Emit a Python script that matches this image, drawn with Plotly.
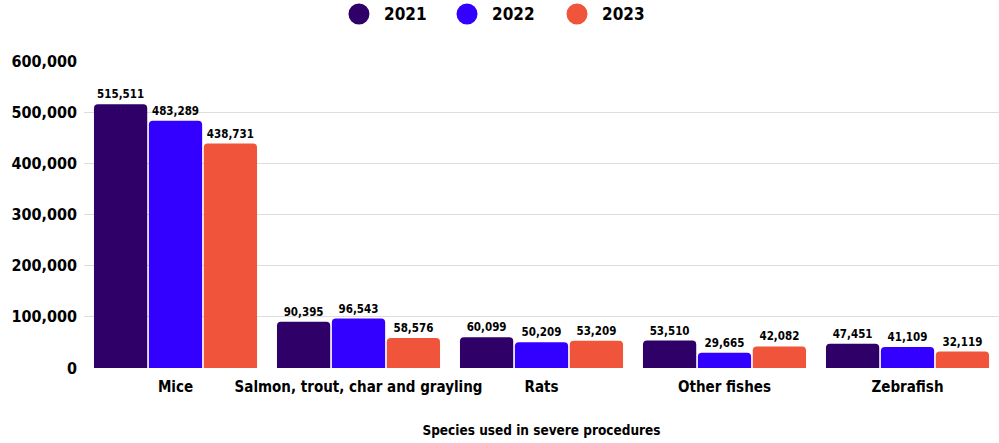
import plotly.graph_objects as go

categories = ["Mice", "Salmon, trout, char and grayling", "Rats", "Other fishes", "Zebrafish"]
years = ["2021", "2022", "2023"]
values_2021 = [515511, 90395, 60099, 53510, 47451]
values_2022 = [483289, 96543, 50209, 29665, 41109]
values_2023 = [438731, 58576, 53209, 42082, 32119]
colors = ["#2f0068", "#3300ff", "#f0543a"]
tick_vals = [0, 100000, 200000, 300000, 400000, 500000, 600000]

FONT = "DejaVu Sans Condensed, Liberation Sans Narrow, DejaVu Sans, sans-serif"

fig = go.Figure()
for name, vals, col in zip(years, [values_2021, values_2022, values_2023], colors):
    fig.add_trace(go.Bar(
        x=categories, y=vals, name=name, showlegend=False,
        marker=dict(color=col, line=dict(width=0)),
        text=[f"{v:,}" for v in vals], textposition="outside", textangle=0,
        textfont=dict(family=FONT, size=11.5, color="#000", weight="bold"),
        cliponaxis=False,
    ))

# custom legend (large circular markers)
legend_x = [0.3005, 0.4186, 0.5388]
legend_y = 1.153
for name, col, lx in zip(years, colors, legend_x):
    fig.add_shape(type="circle", xref="paper", yref="paper",
                  xsizemode="pixel", ysizemode="pixel",
                  xanchor=lx, yanchor=legend_y,
                  x0=-10.5, x1=10.5, y0=-10.5, y1=10.5,
                  fillcolor=col, line=dict(width=0))
    fig.add_annotation(x=lx + 0.0255, y=legend_y, xref="paper", yref="paper",
                       text=name, showarrow=False, xanchor="left", yanchor="middle",
                       font=dict(family=FONT, size=17, color="#000", weight="bold"))

fig.update_layout(
    width=999, height=443,
    margin=dict(l=84, r=0, t=61, b=75),
    paper_bgcolor="white", plot_bgcolor="white",
    barmode="group", bargap=0.1, bargroupgap=0.03, barcornerradius=4,
    font=dict(family=FONT, color="#000", size=16, weight="bold"),
    showlegend=False,
    uniformtext=dict(mode=False),
)
fig.update_xaxes(
    showgrid=False, showline=False, ticks="",
    tickfont=dict(family=FONT, size=15, weight="bold"), ticklabelstandoff=8,
    title=dict(text="Species used in severe procedures",
               font=dict(family=FONT, size=13.5, weight="bold"), standoff=30),
)
fig.update_yaxes(
    range=[0, 600000], tickvals=tick_vals, tickformat=",",
    showgrid=True, gridcolor="#dddddd", gridwidth=1, zeroline=False,
    tickfont=dict(family=FONT, size=16, weight="bold"), ticklabelstandoff=6,
)

fig.write_html("out.html")
